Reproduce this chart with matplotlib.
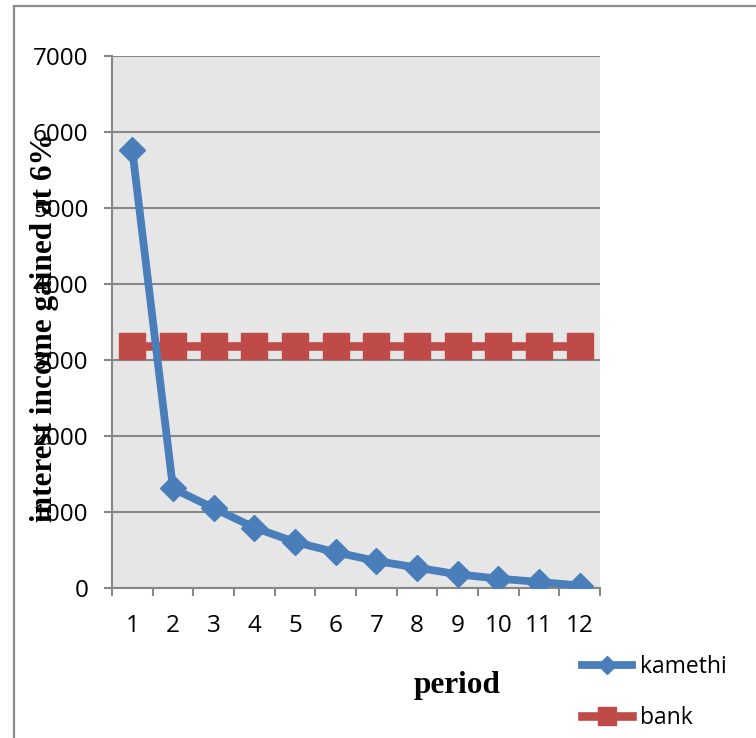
import numpy as np
import matplotlib
matplotlib.use("Agg")
import matplotlib.pyplot as plt
from matplotlib.lines import Line2D
from matplotlib.patches import Rectangle

# ── data ────────────────────────────────────────────────────────────────────
periods = list(range(1, 13))
kamethi = [5760, 1310, 1050, 795, 605, 470, 355, 268, 180, 123, 80, 32]
bank = [3180] * 12
y_ticks = [0, 1000, 2000, 3000, 4000, 5000, 6000, 7000]

blue = "#4a7ebb"
red = "#be4b48"
grid_grey = "#878787"
tick_font = "Open Sans"

# ── figure ───────────────────────────────────────────────────────────────────
fig = plt.figure(figsize=(7.56, 7.38), dpi=100)
ax = fig.add_axes([112 / 756, 1 - 588 / 738, 488 / 756, 532 / 738])
ax.set_facecolor("#e6e6e6")

# outer chart frame (only left and top edges fall inside the canvas)
fig.patches.append(Rectangle((14 / 756, -0.2), 1.2, 1 - 6 / 738 + 0.2,
                             transform=fig.transFigure, fill=False,
                             ec="#8c8c8c", lw=1.6, zorder=0))

ax.plot(periods, bank, color=red, lw=6.2, marker="s", ms=18.5,
        solid_capstyle="butt", zorder=3)
ax.plot(periods, kamethi, color=blue, lw=5.6, marker="D", ms=13,
        solid_joinstyle="miter", zorder=4)

ax.set_xlim(0.5, 12.5)
ax.set_ylim(0, 7000)

# horizontal gridlines
ax.set_yticks(y_ticks)
ax.yaxis.grid(True, color=grid_grey, lw=1.5)
ax.set_axisbelow(True)

# category boundaries carry the tick marks, centres carry the labels
ax.set_xticks(np.arange(0.5, 13, 1.0))
ax.set_xticklabels([])
ax.set_xticks(periods, minor=True)
ax.set_xticklabels([str(p) for p in periods], minor=True,
                   fontsize=17.5, family=tick_font)
ax.tick_params(axis="x", which="major", direction="out", length=6,
               width=1.5, color=grid_grey)
ax.tick_params(axis="x", which="minor", length=0, pad=19)
ax.tick_params(axis="y", direction="out", length=6, width=1.5,
               color=grid_grey, pad=11)
for lbl in ax.get_yticklabels():
    lbl.set_fontsize(17.5)
    lbl.set_family(tick_font)

for side in ("top", "right"):
    ax.spines[side].set_visible(False)
for side in ("left", "bottom"):
    ax.spines[side].set_color(grid_grey)
    ax.spines[side].set_linewidth(1.5)

ax.set_ylabel("interest income gained at 6%", family="Liberation Serif",
              fontweight="bold", fontsize=22.5)
ax.yaxis.set_label_coords(-53 / 488, 0.49)

fig.text(457 / 756, 1 - 685 / 738, "period", family="Liberation Serif",
         fontweight="bold", fontsize=22.5, ha="center", va="center")

# legend with proxy handles (smaller markers than the plotted series)
handles = [
    Line2D([], [], color=blue, lw=5.6, marker="D", ms=9),
    Line2D([], [], color=red, lw=6.2, marker="s", ms=13),
]
fig.legend(handles, ["kamethi", "bank"], loc="upper left",
           bbox_to_anchor=(582 / 756, 1 - 655 / 738), frameon=False,
           prop={"family": tick_font, "size": 16.5}, handlelength=2.2,
           handletextpad=0.35, labelspacing=1.2, borderaxespad=0,
           borderpad=0)

fig.savefig("out.png", dpi=100)
